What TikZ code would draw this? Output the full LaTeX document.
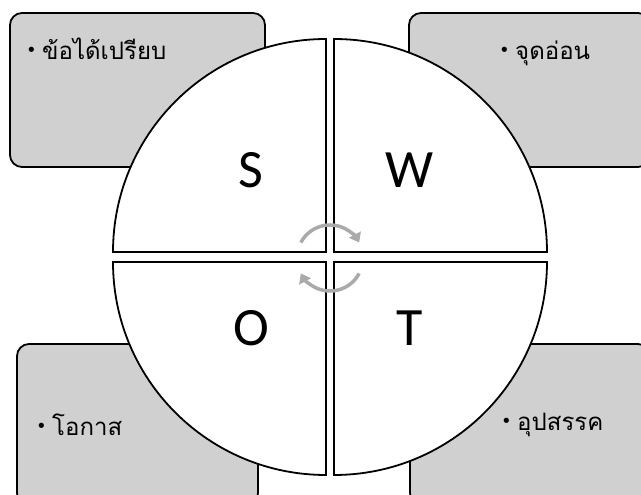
\documentclass[tikz,border=0pt]{standalone}
\usepackage{fontspec}
\setmainfont{Carlito}
\newfontfamily\thaifont[Script=Thai]{Loma}
\newfontfamily\symfont{DejaVu Sans}
\usetikzlibrary{arrows.meta, positioning, calc}

\definecolor{boxgray}{RGB}{208, 208, 208}
\definecolor{arrowgray}{RGB}{170, 170, 170}
\newcommand{\blt}{\raisebox{3pt}{\symfont\fontsize{18}{20}\selectfont •}\ }

\begin{document}
\begin{tikzpicture}[x=1pt, y=1pt,
    infobox/.style={draw=black, fill=boxgray, line width=1.8pt, rounded corners=12pt},
    quarter/.style={draw=black, fill=white, line width=1.8pt},
    letter/.style={font=\fontsize{54}{60}\selectfont},
    bullettext/.style={anchor=west, inner sep=0pt, font=\fontsize{24}{28}\selectfont},
    cycarrow/.style={draw=arrowgray, line width=3.5pt, -{Triangle[length=9pt, width=13pt]}}]
  \useasboundingbox (0,0) rectangle (641,495);
  \begin{scope}
    \clip (0,0) rectangle (641,495);
    % the four boxes behind the circle
    \draw[infobox] (10,328) rectangle (265,482);
    \draw[infobox] (409,328) rectangle (650,482);
    \draw[infobox] (17,-10) rectangle (258,151);
    \draw[infobox] (410,-10) rectangle (650,151);
  \end{scope}
  \node[bullettext] (strengths) at (26,446) {\blt{\thaifont ข้อได้เปรียบ}};
  \node[bullettext] (weaknesses) at (499,442) {\blt{\thaifont จุดอ่อน}};
  \node[bullettext] (opportunities) at (36,70) {\blt{\thaifont โอกาส}};
  \node[bullettext] (threats) at (501,70) {\blt{\thaifont อุปสรรค}};
  % circle cut in four
  \draw[quarter] (326,243) -- ++(-213,0) arc (180:90:213) -- cycle;
  \draw[quarter] (334,243) -- ++(0,213) arc (90:0:213) -- cycle;
  \draw[quarter] (326,233) -- ++(-213,0) arc (180:270:213) -- cycle;
  \draw[quarter] (334,233) -- ++(213,0) arc (0:-90:213) -- cycle;
  \node[letter] (S) at (251,325) {S};
  \node[letter] (W) at (410,325) {W};
  \node[letter] (O) at (251,167) {O};
  \node[letter] (T) at (410,167) {T};
  % arrows in the middle
  \coordinate (hub) at (330,237);
  \draw[cycarrow] ($(hub)+(152:33)$) arc (152:28:33);
  \draw[cycarrow] ($(hub)+(-28:33)$) arc (-28:-152:33);
\end{tikzpicture}
\end{document}
